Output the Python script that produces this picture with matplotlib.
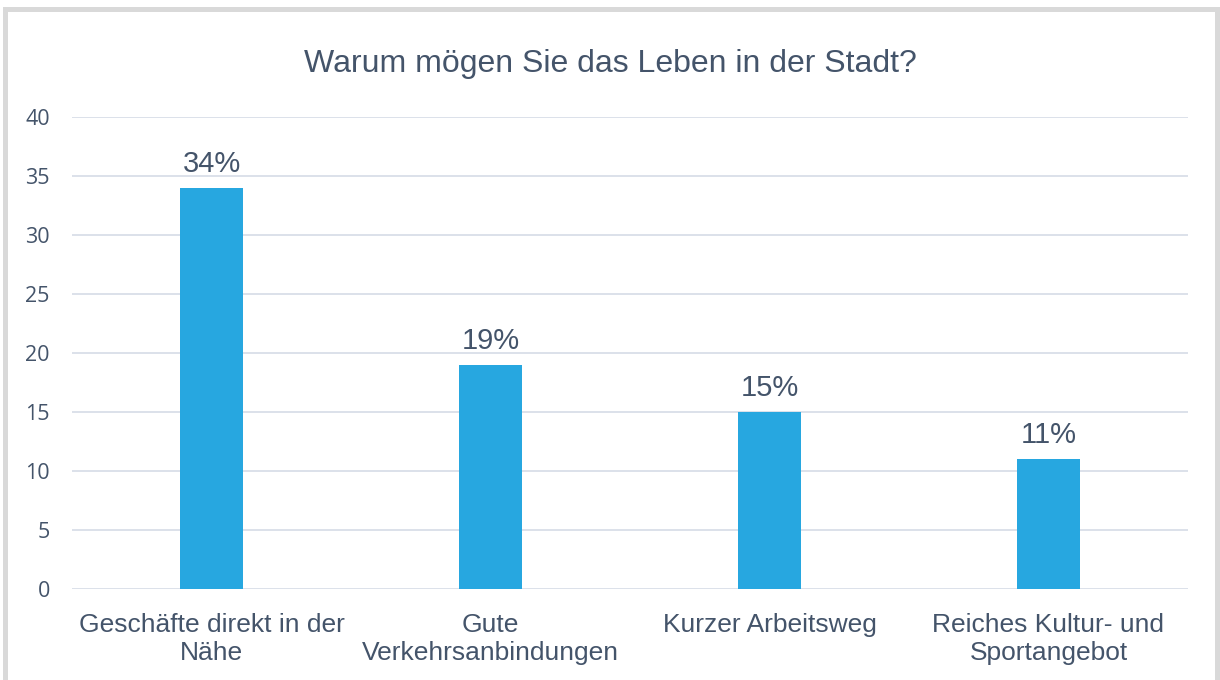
import matplotlib.pyplot as plt
from matplotlib.patches import Rectangle

categories = ["Geschäfte direkt in der\nNähe", "Gute\nVerkehrsanbindungen",
              "Kurzer Arbeitsweg", "Reiches Kultur- und\nSportangebot"]
values = [34, 19, 15, 11]
labels = ["34%", "19%", "15%", "11%"]
yticks = [0, 5, 10, 15, 20, 25, 30, 35, 40]

text_color = "#44546A"
bar_color = "#27A7E0"
grid_color = "#D9DEE8"

fig = plt.figure(figsize=(12.2, 6.8), dpi=100)
fig.patch.set_facecolor("white")

# outer grey frame
fig.add_artist(Rectangle((5 / 1220, -0.05), 1212 / 1220, 1.05 - 9 / 680,
                         transform=fig.transFigure, fill=False,
                         edgecolor="#D9D9D9", linewidth=3.6))

ax = fig.add_axes([72 / 1220, 1 - 589 / 680, 1116 / 1220, 472 / 680])
x = range(len(categories))
ax.bar(x, values, width=0.226, color=bar_color, zorder=3)
ax.set_xlim(-0.5, len(categories) - 0.5)
ax.set_ylim(0, 40)
ax.set_yticks(yticks)
ax.grid(axis="y", color=grid_color, linewidth=1.3, zorder=0)
for s in ax.spines.values():
    s.set_visible(False)
ax.tick_params(axis="both", length=0)
ax.tick_params(axis="y", pad=16, labelsize=15.5, labelcolor=text_color)
ax.set_yticklabels([str(t) for t in yticks], family="Open Sans")
ax.set_xticks(list(x))
ax.set_xticklabels(categories, fontsize=19, color=text_color,
                   family="Liberation Sans", linespacing=1.25)
ax.tick_params(axis="x", pad=17)

for i, (v, lab) in enumerate(zip(values, labels)):
    ax.annotate(lab, (i, v), xytext=(0, 7), textcoords="offset points",
                ha="center", va="bottom", fontsize=21, color=text_color,
                family="Liberation Sans")

fig.text(0.5, 1 - 64 / 680, "Warum mögen Sie das Leben in der Stadt?",
         ha="center", va="center", fontsize=23, color=text_color,
         family="Liberation Sans")

fig.savefig("out.png", dpi=100)
